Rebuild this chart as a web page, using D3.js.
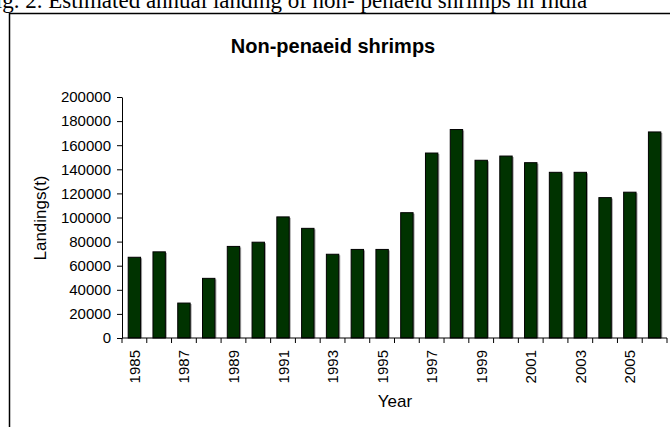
<!DOCTYPE html>
<html>
<head>
<meta charset="utf-8">
<script src="https://cdn.jsdelivr.net/npm/d3@7"></script>
<style>
  body { margin: 0; background: #fff; }
  svg { display: block; }
</style>
</head>
<body>
<div id="chart"></div>
<script>
// data
const years = ["1985","1986","1987","1988","1989","1990","1991","1992","1993","1994","1995",
               "1996","1997","1998","1999","2000","2001","2002","2003","2004","2005","2006"];
const landings = [67000, 71500, 29000, 49500, 76000, 79500, 100500, 91000, 69500, 73500, 73500,
                  104000, 153500, 173000, 147500, 151000, 145500, 137500, 137500, 116500, 121000, 171000];
const yTicks = [0, 20000, 40000, 60000, 80000, 100000, 120000, 140000, 160000, 180000, 200000];
const labelYears = ["1985","1987","1989","1991","1993","1995","1997","1999","2001","2003","2005"];

const W = 670, H = 427;
const margin = { top: 97, right: 3, bottom: 89, left: 122 };
const sans = "Arial, Liberation Sans, sans-serif";

const svg = d3.select("#chart")
  .append("svg")
  .attr("width", W)
  .attr("height", H);

// caption of the figure, cut off at the top of the page
svg.append("text")
  .attr("x", -17)
  .attr("y", 8)
  .style("font-family", "Liberation Serif, Times New Roman, serif")
  .style("font-size", "23px")
  .text("Fig. 2. Estimated annual landing of non- penaeid shrimps in India");

// chart frame (only left and top edges show)
svg.append("path")
  .attr("d", "M9.5," + H + " L9.5,13.5 L" + W + ",13.5")
  .attr("fill", "none")
  .attr("stroke", "#000")
  .attr("stroke-width", 1.5);

const g = svg.append("g")
  .attr("transform", "translate(" + margin.left + "," + margin.top + ")");

const width = W - margin.left - margin.right;
const height = 338 - margin.top;

const x = d3.scaleBand()
  .domain(years)
  .range([0, width])
  .paddingInner(0.5)
  .paddingOuter(0.25);

const y = d3.scaleLinear()
  .domain([0, 200000])
  .range([height, 0]);

// bars, with the thin grey shadow Excel puts on them
g.append("g")
  .selectAll("rect")
  .data(years)
  .enter()
  .append("rect")
    .attr("x", (d, i) => x(d) + 1.5)
    .attr("y", (d, i) => y(landings[i]) + 1)
    .attr("width", x.bandwidth())
    .attr("height", (d, i) => height - y(landings[i]) - 1)
    .attr("fill", "#a0a0a0");

g.append("g")
  .selectAll("rect")
  .data(years)
  .enter()
  .append("rect")
    .attr("x", d => x(d))
    .attr("y", (d, i) => y(landings[i]))
    .attr("width", x.bandwidth())
    .attr("height", (d, i) => height - y(landings[i]))
    .attr("fill", "#003300")
    .attr("stroke", "#000")
    .attr("stroke-width", 1);

// Y axis
const yAxis = g.append("g")
  .call(d3.axisLeft(y).tickValues(yTicks).tickFormat(d3.format("d")).tickSize(5).tickSizeOuter(0));
yAxis.select(".domain").attr("stroke", "#000");
yAxis.selectAll("text")
  .attr("x", -11)
  .style("font-family", sans)
  .style("font-size", "15px")
  .attr("fill", "#000");

// X axis: ticks on the band edges, labels every other year
const xAxis = g.append("g")
  .attr("transform", "translate(0," + height + ")");
xAxis.append("line")
  .attr("x1", 0).attr("x2", width)
  .attr("stroke", "#000");
xAxis.selectAll("line.tick")
  .data(d3.range(years.length + 1))
  .enter()
  .append("line")
    .attr("class", "tick")
    .attr("x1", i => i * x.step())
    .attr("x2", i => i * x.step())
    .attr("y1", 0)
    .attr("y2", 5)
    .attr("stroke", "#000");
xAxis.selectAll("text")
  .data(labelYears)
  .enter()
  .append("text")
    .attr("transform", d => "translate(" + (x(d) + x.bandwidth() / 2 + 5.5) + ",12) rotate(-90)")
    .attr("text-anchor", "end")
    .style("font-family", sans)
    .style("font-size", "15px")
    .text(d => d);

// title
svg.append("text")
  .attr("x", 333)
  .attr("y", 53)
  .attr("text-anchor", "middle")
  .style("font-family", sans)
  .style("font-size", "20px")
  .style("font-weight", "bold")
  .text("Non-penaeid shrimps");

// axis titles
svg.append("text")
  .attr("transform", "translate(46,218) rotate(-90)")
  .attr("text-anchor", "middle")
  .style("font-family", sans)
  .style("font-size", "17px")
  .text("Landings(t)");

svg.append("text")
  .attr("x", 395)
  .attr("y", 407)
  .attr("text-anchor", "middle")
  .style("font-family", sans)
  .style("font-size", "17px")
  .text("Year");
</script>
</body>
</html>
